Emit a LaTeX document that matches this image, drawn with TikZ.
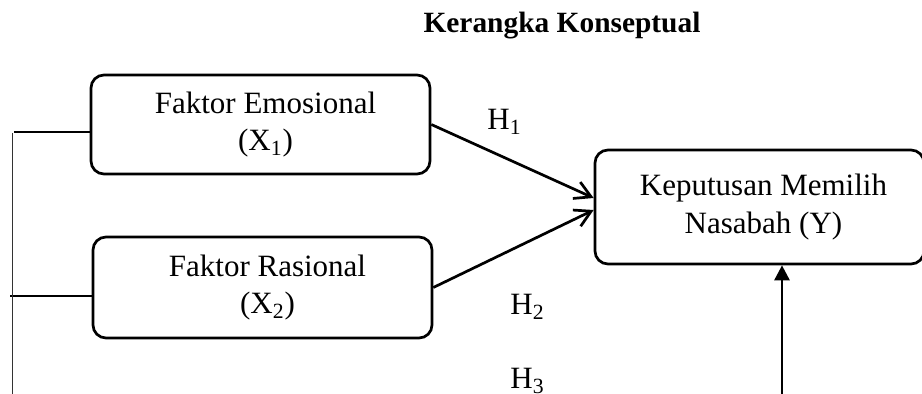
\documentclass[tikz,border=0pt]{standalone}
\usepackage{fontspec}
\setmainfont{Liberation Serif}
\usetikzlibrary{arrows.meta,calc}
\tikzset{
  box/.style={draw=black, line width=1.35pt, rounded corners=6.5pt, align=center,
    inner sep=0pt, font=\fontsize{15.5}{18.8}\selectfont},
  hyp/.style={line width=1.35pt, -{Straight Barb[length=8pt,width=9pt]}},
  lbl/.style={font=\fontsize{15.5}{18}\selectfont, inner sep=0pt, anchor=base west},
  brk/.style={line width=1.2pt},
}
\begin{document}
\begin{tikzpicture}[x=0.5pt,y=-0.5pt]
\useasboundingbox (0,0) rectangle (922,394);
\node[font=\bfseries\fontsize{14.7}{18}\selectfont, inner sep=0pt, anchor=base] (title) at (562,33) {Kerangka Konseptual};
\node[box, minimum width=169.5pt, minimum height=49.5pt] (X1) at (260.5,124.5) {\hspace*{5pt}Faktor Emosional\\\hspace*{5pt}(X\textsubscript{1})};
\node[box, minimum width=169.5pt, minimum height=50.5pt] (X2) at (262.5,287.5) {\hspace*{5pt}Faktor Rasional\\\hspace*{5pt}(X\textsubscript{2})};
\node[box, minimum width=164.5pt, minimum height=57pt] (Y) at (759.5,207) {\hspace*{4pt}Keputusan Memilih\\\hspace*{4pt}Nasabah (Y)};
\node[lbl] (H1) at (487,130) {H\textsubscript{1}};
\node[lbl] (H2) at (510,315) {H\textsubscript{2}};
\node[lbl] (H3) at (510,389) {H\textsubscript{3}};
\coordinate (t1) at ($(Y.west)+(0,4.5pt)$);
\coordinate (t2) at ($(Y.west)+(0,-1.5pt)$);
\draw[hyp] (X1.east) -- (t1);
\draw[hyp] (X2.east) -- (t2);
\coordinate (ybot) at (782,400);
\draw[line width=1.35pt, -{Triangle[length=7.5pt,width=7.5pt]}] (ybot) -- (ybot |- Y.south);
\coordinate (b1) at (14,132);
\coordinate (b2) at (10,296);
\coordinate (vtop) at (12.5,133);
\coordinate (vbot) at (12.5,400);
\draw[brk] (b1) -- (b1 -| X1.west);
\draw[brk] (b2) -- (b2 -| X2.west);
\draw[line width=0.75pt, black!80] (vtop) -- (vbot);
\end{tikzpicture}
\end{document}
